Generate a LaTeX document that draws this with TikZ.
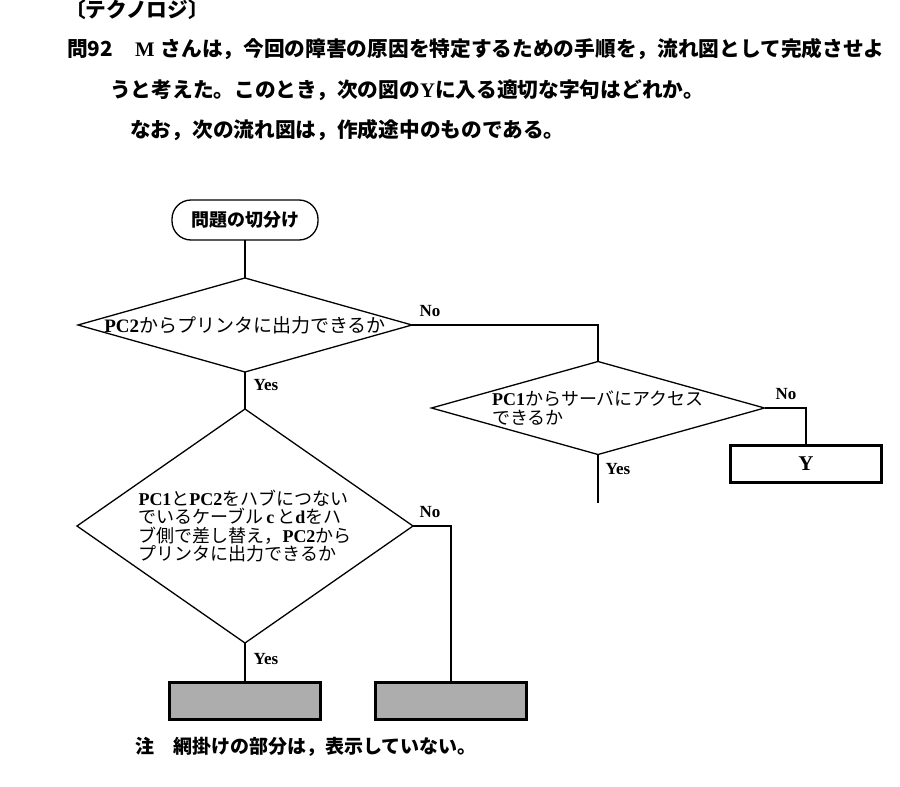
\documentclass[tikz,border=0pt]{standalone}
\usepackage{fontspec}
\setmainfont{Noto Sans CJK JP}
\newfontfamily\latinfont{Liberation Serif}
\usetikzlibrary{shapes.geometric, positioning}

\newcommand{\en}[1]{{\latinfont\bfseries #1}}

\tikzstyle{flow}     = [line width=1.3pt]
\tikzstyle{decision} = [draw, line width=1.3pt, diamond, inner sep=0pt, outer sep=0pt]
\tikzstyle{terminal} = [draw, line width=1.3pt, rectangle, rounded corners=19pt, minimum width=146pt, minimum height=40pt, outer sep=0pt, font=\fontsize{18}{18}\selectfont\bfseries]
\tikzstyle{process}  = [draw, line width=2.6pt, rectangle, minimum width=151pt, minimum height=37pt, inner sep=0pt, outer sep=0pt, font=\fontsize{21}{21}\selectfont]
\tikzstyle{hidden}   = [process, fill=black!32]
\tikzstyle{yn}       = [inner sep=0pt, font=\fontsize{17}{17}\selectfont\latinfont\bfseries]
\tikzstyle{qtext}    = [align=left, inner sep=0pt, font=\fontsize{18}{18.5}\selectfont]
\tikzstyle{heading}  = [anchor=west, inner sep=0pt, font=\fontsize{20.7}{20.7}\selectfont\bfseries]

\begin{document}
\begin{tikzpicture}[x=1pt, y=-1pt]

\useasboundingbox (0,0) rectangle (900,787);

\node[heading] (title) at (65,10) {〔テクノロジ〕};
\node[heading] (q1)    at (67,49) {問92\hspace{22pt}\en{M}\hspace{6pt}さんは，今回の障害の原因を特定するための手順を，流れ図として完成させよ};
\node[heading] (q2)    at (110,90) {うと考えた。このとき，次の図の\en{Y}に入る適切な字句はどれか。};
\node[heading] (q3)    at (130,130) {なお，次の流れ図は，作成途中のものである。};

\node[terminal] (start) at (245,220) {問題の切分け};

\node[decision, minimum width=334pt, minimum height=94pt]  (D1) at (245,325) {};
\node[decision, minimum width=333pt, minimum height=93pt]  (D2) at (598,408) {};
\node[decision, minimum width=336pt, minimum height=234pt] (D3) at (245,526) {};

\node[qtext, font=\fontsize{19}{19}\selectfont] (D1txt) at (D1) {\en{PC2}からプリンタに出力できるか};
\node[qtext] (D2txt) at (D2) {\en{PC1}からサーバにアクセス\\できるか};
\node[qtext] (D3txt) at (D3) {\en{PC1}と\en{PC2}をハブにつない\\でいるケーブル\,\en{c}\,と\en{d}をハ\\ブ側で差し替え，\en{PC2}から\\プリンタに出力できるか};

\node[process] (Y)  at (806,464) {\en{Y}};
\node[hidden]  (H1) at (245,701) {};
\node[hidden]  (H2) at (451,701) {};

\coordinate (D2out) at (598,503);

\draw[flow] (start) -- (D1);
\draw[flow] (D1.south) -- (D3.north);
\draw[flow] (D1.east) -| (D2.north);
\draw[flow] (D2.east) -| (Y.north);
\draw[flow] (D2.south) -- (D2out);
\draw[flow] (D3.east) -| (H2.north);
\draw[flow] (D3.south) -- (H1.north);

\node[yn] (no1)  at (430,311) {No};
\node[yn] (yes1) at (266,385) {Yes};
\node[yn] (no2)  at (786,394) {No};
\node[yn] (yes2) at (618,469) {Yes};
\node[yn] (no3)  at (430,512) {No};
\node[yn] (yes3) at (266,659) {Yes};

\node[heading, font=\fontsize{19}{19}\selectfont\bfseries] (note) at (135,747) {注　網掛けの部分は，表示していない。};

\end{tikzpicture}
\end{document}
